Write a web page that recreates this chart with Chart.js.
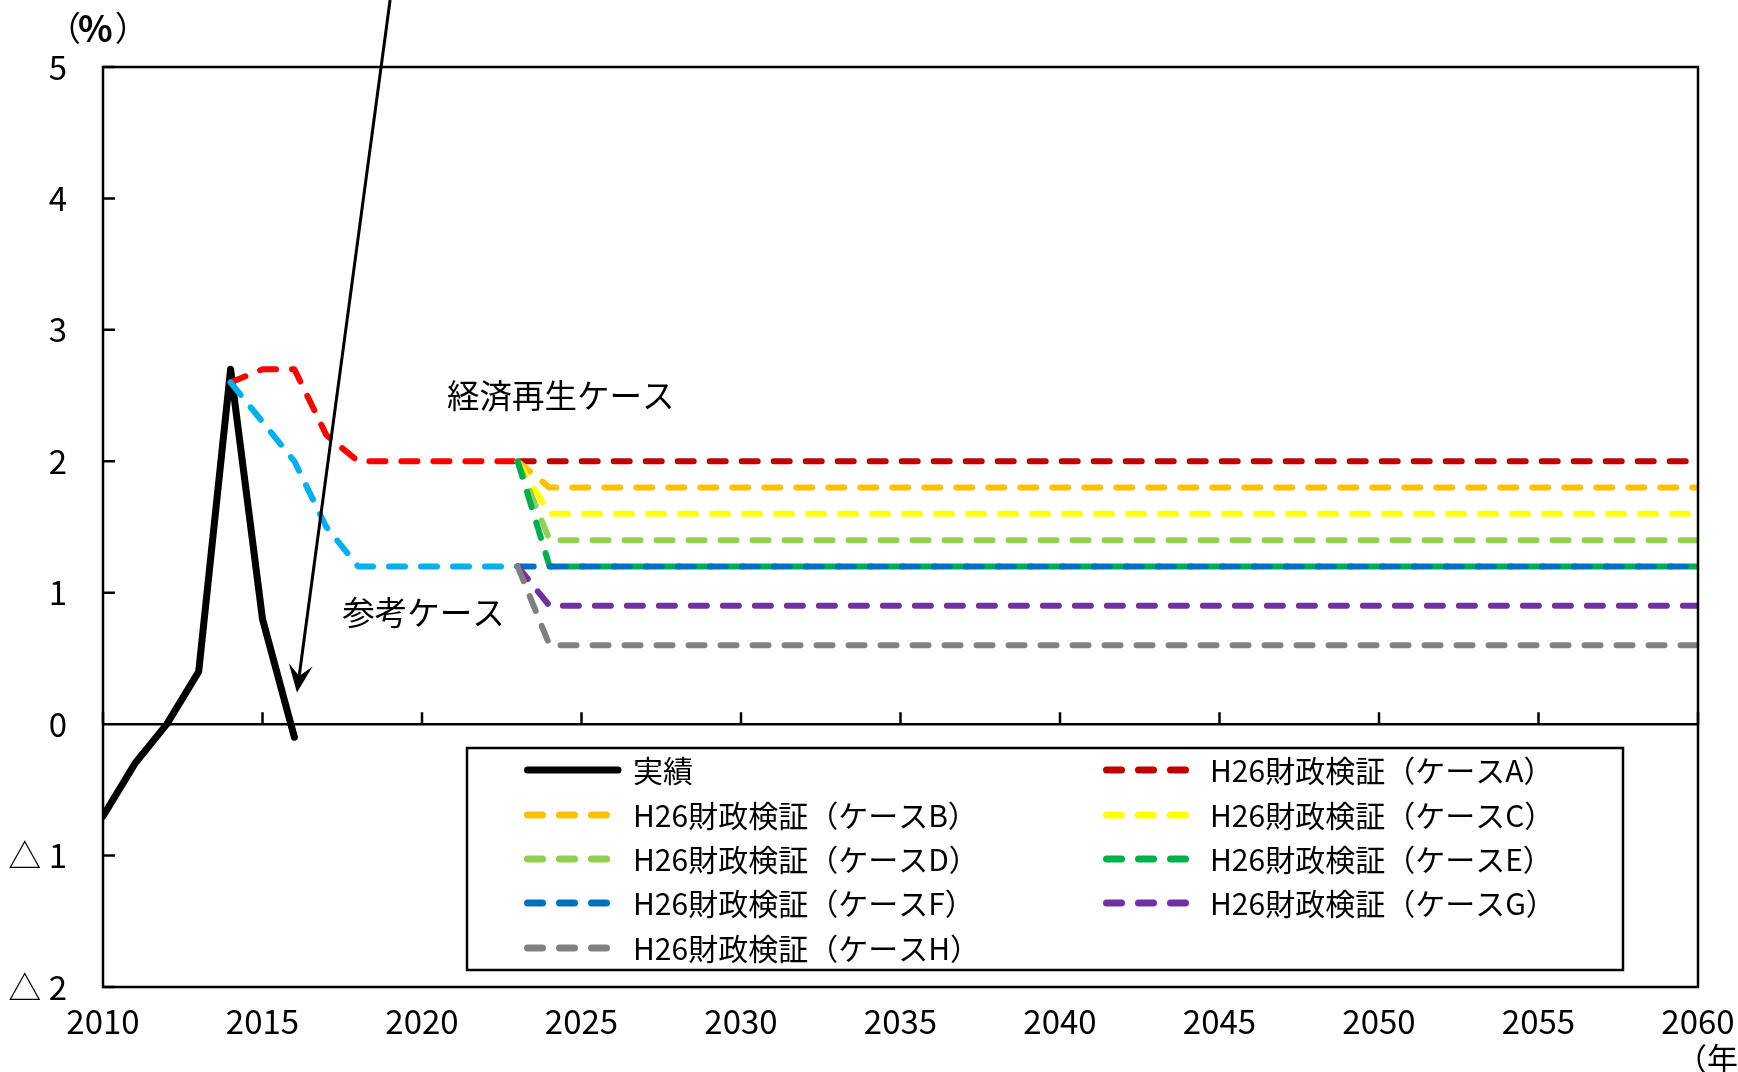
<!DOCTYPE html>
<html>
<head>
<meta charset="utf-8">
<script src="https://cdn.jsdelivr.net/npm/chart.js@4.4.0/dist/chart.umd.min.js"></script>
<style>
  html, body { margin: 0; padding: 0; background: #ffffff; }
  #wrap { width: 1738px; height: 1072px; position: relative; }
  canvas { display: block; }
</style>
</head>
<body>
<div id="wrap"><canvas id="c" width="1738" height="1072"></canvas></div>
<script>
// ---------- data ----------
const actualYears = [2010, 2011, 2012, 2013, 2014, 2015, 2016];
const actualValues = [-0.7, -0.3, 0.0, 0.4, 2.7, 0.8, -0.1];

const outlookYears = [2014, 2015, 2016, 2017, 2018, 2019, 2020, 2021, 2022, 2023];
const revivalValues = [2.6, 2.7, 2.7, 2.2, 2.0, 2.0, 2.0, 2.0, 2.0, 2.0];   // 経済再生ケース
const referenceValues = [2.6, 2.3, 2.0, 1.5, 1.2, 1.2, 1.2, 1.2, 1.2, 1.2]; // 参考ケース

const caseYears = [2023, 2024, 2060];
const caseA = [2.0, 2.0, 2.0];
const caseB = [2.0, 1.8, 1.8];
const caseC = [2.0, 1.6, 1.6];
const caseD = [2.0, 1.4, 1.4];
const caseE = [2.0, 1.2, 1.2];
const caseF = [1.2, 1.2, 1.2];
const caseG = [1.2, 0.9, 0.9];
const caseH = [1.2, 0.6, 0.6];

const caseLabels = ['H26財政検証（ケースA）', 'H26財政検証（ケースB）', 'H26財政検証（ケースC）', 'H26財政検証（ケースD）',
                    'H26財政検証（ケースE）', 'H26財政検証（ケースF）', 'H26財政検証（ケースG）', 'H26財政検証（ケースH）'];
const actualLabel = '実績';
const revivalLabel = '経済再生ケース';
const referenceLabel = '参考ケース';

const xTickValues = [2010, 2015, 2020, 2025, 2030, 2035, 2040, 2045, 2050, 2055, 2060];
const yTickValues = [-2, -1, 0, 1, 2, 3, 4, 5];

// arrow annotation (data coordinates: start, tip)
const arrowFrom = [2019.0, 5.51];
const arrowTo = [2016.08, 0.24];

// ---------- helpers ----------
const JP = "'Noto Sans CJK JP', 'Noto Sans', sans-serif";
function pts(xs, ys) { return xs.map((x, i) => ({ x: x, y: ys[i] })); }

const caseColors = ['#C00000', '#FFC000', '#FFFF00', '#92D050', '#00B050', '#0070C0', '#7030A0', '#808080'];
const caseData = [caseA, caseB, caseC, caseD, caseE, caseF, caseG, caseH];
const DASH = [16, 16];

const datasets = [];
datasets.push({ label: actualLabel, data: pts(actualYears, actualValues), borderColor: '#000000', borderWidth: 7, borderDash: [] });
datasets.push({ label: revivalLabel, data: pts(outlookYears, revivalValues), borderColor: '#FF0000', borderWidth: 6, borderDash: DASH, noLegend: true });
datasets.push({ label: referenceLabel, data: pts(outlookYears, referenceValues), borderColor: '#00B0F0', borderWidth: 6, borderDash: DASH, noLegend: true });
caseData.forEach((vals, i) => {
  datasets.push({ label: caseLabels[i], data: pts(caseYears, vals), borderColor: caseColors[i], borderWidth: 6, borderDash: DASH });
});
datasets.forEach((d, i) => {
  d.order = 100 - i;
  d.fill = false;
  d.tension = 0;
  d.pointRadius = 0;
  d.pointHoverRadius = 0;
  d.borderCapStyle = 'round';
  d.borderJoinStyle = 'round';
});

// ---------- decorations plugin ----------
const deco = {
  id: 'deco',
  beforeDatasetsDraw(chart) {
    const { ctx, chartArea: a, scales: { x, y } } = chart;
    ctx.save();
    ctx.strokeStyle = '#000';
    ctx.lineWidth = 2.5;
    const y0 = y.getPixelForValue(0);
    ctx.beginPath();
    ctx.moveTo(a.left, y0); ctx.lineTo(a.right, y0);
    xTickValues.forEach(v => {
      const px = x.getPixelForValue(v);
      ctx.moveTo(px, y0); ctx.lineTo(px, y0 - 12);
    });
    yTickValues.forEach(v => {
      const py = y.getPixelForValue(v);
      ctx.moveTo(a.left, py); ctx.lineTo(a.left + 12, py);
    });
    ctx.stroke();
    ctx.restore();
  },
  afterDatasetsDraw(chart) {
    const { ctx, chartArea: a, scales: { x, y } } = chart;
    ctx.save();
    // frame
    ctx.strokeStyle = '#000';
    ctx.lineWidth = 2.5;
    ctx.strokeRect(a.left, a.top, a.right - a.left, a.bottom - a.top);

    // arrow
    const sx = x.getPixelForValue(arrowFrom[0]), sy = y.getPixelForValue(arrowFrom[1]);
    const tx = x.getPixelForValue(arrowTo[0]), ty = y.getPixelForValue(arrowTo[1]);
    const ang = Math.atan2(ty - sy, tx - sx);
    const L = 28, W = 12;
    ctx.lineWidth = 3;
    ctx.beginPath();
    ctx.moveTo(sx, sy);
    ctx.lineTo(tx - Math.cos(ang) * 12, ty - Math.sin(ang) * 12);
    ctx.stroke();
    ctx.fillStyle = '#000';
    ctx.beginPath();
    const bx = tx - Math.cos(ang) * L, by = ty - Math.sin(ang) * L;
    const nx = -Math.sin(ang), ny = Math.cos(ang);
    const mx = tx - Math.cos(ang) * L * 0.6, my = ty - Math.sin(ang) * L * 0.6;
    ctx.moveTo(tx, ty);
    ctx.lineTo(bx + nx * W, by + ny * W);
    ctx.lineTo(mx, my);
    ctx.lineTo(bx - nx * W, by - ny * W);
    ctx.closePath();
    ctx.fill();

    // annotations
    ctx.fillStyle = '#000';
    ctx.font = '32.5px ' + JP;
    ctx.textBaseline = 'middle';
    ctx.textAlign = 'left';
    ctx.fillText(revivalLabel, x.getPixelForValue(2020.78), y.getPixelForValue(2.5));
    ctx.fillText(referenceLabel, x.getPixelForValue(2017.5), y.getPixelForValue(0.85));

    // unit labels
    let ux = a.left - 56;
    ctx.font = '34px ' + JP;
    ctx.fillText('（', ux, 28);
    ux += ctx.measureText('（').width;
    ctx.font = 'bold 36px ' + JP;
    ctx.fillText('%', ux - 3, 28);
    ux += ctx.measureText('%').width - 1;
    ctx.font = '34px ' + JP;
    ctx.fillText('）', ux, 28);
    ctx.font = '31px ' + JP;
    ctx.fillText('（年）', a.right - 22, 1058);

    // legend box
    const bxL = 467, bxT = 748, bxR = 1623, bxB = 970;
    ctx.fillStyle = '#fff';
    ctx.fillRect(bxL, bxT, bxR - bxL, bxB - bxT);
    ctx.strokeStyle = '#000';
    ctx.lineWidth = 2.5;
    ctx.strokeRect(bxL, bxT, bxR - bxL, bxB - bxT);

    const legendItems = datasets.filter(d => !d.noLegend);
    const cols = [{ lx: 524, tx: 633 }, { lx: 1103, tx: 1210 }];
    const rowY = [770, 815, 859, 903, 948];
    legendItems.forEach((d, i) => {
      const c = cols[i % 2];
      const ry = rowY[Math.floor(i / 2)];
      ctx.save();
      ctx.strokeStyle = d.borderColor;
      ctx.lineCap = 'round';
      ctx.lineWidth = 7;
      if (d.borderDash.length) {
        ctx.setLineDash([15, 17]);
        ctx.beginPath();
        ctx.moveTo(c.lx + 3.5, ry); ctx.lineTo(c.lx + 90, ry);
        ctx.stroke();
      } else {
        ctx.beginPath();
        ctx.moveTo(c.lx + 3.5, ry); ctx.lineTo(c.lx + 94, ry);
        ctx.stroke();
      }
      ctx.restore();
      ctx.fillStyle = '#000';
      ctx.font = '30px ' + JP;
      ctx.textBaseline = 'middle';
      ctx.textAlign = 'left';
      ctx.fillText(d.label, c.tx, ry + 1);
    });
    ctx.restore();
  }
};

new Chart(document.getElementById('c'), {
  type: 'line',
  data: { datasets: datasets },
  options: {
    responsive: false,
    animation: false,
    devicePixelRatio: 1,
    layout: { padding: { top: 67, right: 40, left: 0, bottom: 0 } },
    plugins: { legend: { display: false }, tooltip: { enabled: false } },
    scales: {
      x: {
        type: 'linear',
        min: 2010, max: 2060,
        grid: { display: false, drawTicks: false },
        border: { display: false },
        afterBuildTicks: (s) => { s.ticks = xTickValues.map(v => ({ value: v })); },
        ticks: { font: { family: JP, size: 33 }, color: '#000', padding: 15, maxRotation: 0, autoSkip: false,
                 callback: (v) => String(v) },
        afterFit: (s) => { s.height = 85; s.paddingLeft = 0; s.paddingRight = 0; }
      },
      y: {
        type: 'linear',
        min: -2, max: 5,
        grid: { display: false, drawTicks: false },
        border: { display: false },
        afterBuildTicks: (s) => { s.ticks = yTickValues.map(v => ({ value: v })); },
        ticks: { font: { family: JP, size: 33 }, color: '#000', padding: 36, autoSkip: false,
                 callback: (v) => v < 0 ? '△ ' + (-v) : String(v) },
        afterFit: (s) => { s.width = 103; s.paddingTop = 0; s.paddingBottom = 0; }
      }
    }
  },
  plugins: [deco]
});
</script>
</body>
</html>
